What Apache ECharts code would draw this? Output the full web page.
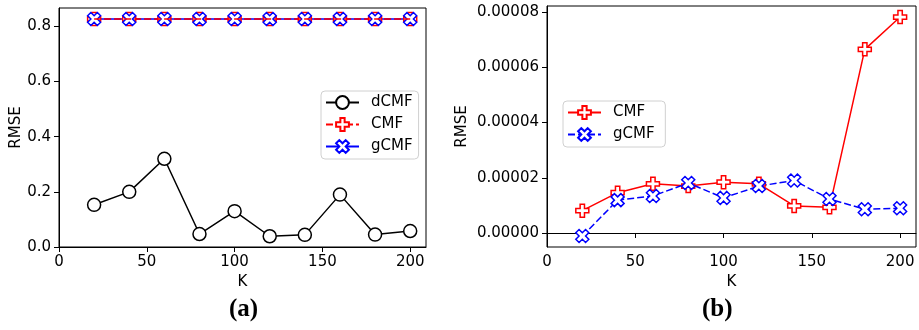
<!DOCTYPE html>
<html>
<head>
<meta charset="utf-8">
<script src="https://cdn.jsdelivr.net/npm/echarts@6/dist/echarts.min.js"></script>
<style>html,body{margin:0;padding:0;background:#fff;}#c{width:919px;height:330px;}</style>
</head>
<body>
<div id="c"></div>
<script>
// ---- data ----
const K = [20, 40, 60, 80, 100, 120, 140, 160, 180, 200];
const dCMF_a = [0.153, 0.200, 0.320, 0.047, 0.130, 0.039, 0.044, 0.190, 0.045, 0.058];
const CMF_a  = [0.827, 0.827, 0.827, 0.827, 0.827, 0.827, 0.827, 0.827, 0.827, 0.827];
const gCMF_a = [0.827, 0.827, 0.827, 0.827, 0.827, 0.827, 0.827, 0.827, 0.827, 0.827];
const CMF_b  = [8.1e-6, 1.46e-5, 1.78e-5, 1.70e-5, 1.84e-5, 1.78e-5, 9.8e-6, 9.3e-6, 6.65e-5, 7.82e-5];
const gCMF_b = [-1.1e-6, 1.19e-5, 1.34e-5, 1.81e-5, 1.27e-5, 1.70e-5, 1.90e-5, 1.23e-5, 8.6e-6, 8.95e-6];
const xTicks = [0, 50, 100, 150, 200];
const yTicksA = [0, 0.2, 0.4, 0.6, 0.8];
const yTicksB = [0, 0.00002, 0.00004, 0.00006, 0.00008];
const captions = ['(a)', '(b)'];

const pair = (ys) => K.map((k, i) => [k, ys[i]]);
const FONT = 'DejaVu Sans';
const PLUS = 'path://M2,0L4,0L4,2L6,2L6,4L4,4L4,6L2,6L2,4L0,4L0,2L2,2Z';
const XMK = 'path://M3,0L4,1L3,2L4,3L3,4L2,3L1,4L0,3L1,2L0,1L1,0L2,1Z';
const DASH = [7, 3];

function xAxisCfg(idx) {
  return {
    type: 'value', gridIndex: idx, min: 0, max: 209,
    name: 'K', nameLocation: 'middle', nameGap: 26,
    nameTextStyle: { fontFamily: FONT, fontSize: 15, color: '#000' },
    axisLine: { show: true, lineStyle: { color: '#000', width: 1 } },
    axisTick: { show: true, length: 5, lineStyle: { color: '#000' }, customValues: xTicks },
    axisLabel: { fontFamily: FONT, fontSize: 15, color: '#000', margin: 8, customValues: xTicks },
    splitLine: { show: false }
  };
}
function yAxisCfg(idx, min, max, ticks, dec, gap) {
  return {
    type: 'value', gridIndex: idx, min: min, max: max,
    name: 'RMSE', nameLocation: 'middle', nameGap: gap, nameRotate: 90,
    nameTextStyle: { fontFamily: FONT, fontSize: 15, color: '#000' },
    axisLine: { show: true, lineStyle: { color: '#000', width: 1 } },
    axisTick: { show: true, length: 5, lineStyle: { color: '#000' }, customValues: ticks },
    axisLabel: { fontFamily: FONT, fontSize: 15, color: '#000', margin: 8, customValues: ticks,
      formatter: (v) => Number(v).toFixed(dec) },
    splitLine: { show: false }
  };
}
function ser(name, data, idx, color, symbol, dashed, z) {
  return {
    name: name, type: 'line', xAxisIndex: idx, yAxisIndex: idx, data: data,
    symbol: symbol, symbolSize: 13, showAllSymbol: true,
    lineStyle: { color: color, width: 1.5, type: dashed ? DASH : 'solid' },
    itemStyle: { color: '#fff', borderColor: color, borderWidth: 1.5 },
    emphasis: { disabled: true }, animation: false, z: z || 3
  };
}

const chart = echarts.init(document.getElementById('c'), null, { renderer: 'canvas' });
const legendBase = {
  orient: 'vertical', itemWidth: 33, itemHeight: 16, itemGap: 7,
  backgroundColor: '#fff', borderColor: '#d0d0d0', borderWidth: 1, borderRadius: 4,
  padding: [4, 6, 5, 4],
  textStyle: { fontFamily: FONT, fontSize: 15, color: '#000', padding: [0, 0, 0, 7] }
};
const cmfLineOverlay = ser('CMF_line', pair(CMF_a), 0, '#ff0000', 'none', true, 4);
chart.setOption({
  animation: false,
  grid: [
    { left: 59, top: 8, width: 367, height: 239, show: true, borderColor: '#000', borderWidth: 1, backgroundColor: 'transparent' },
    { left: 547, top: 6, width: 369, height: 241, show: true, borderColor: '#000', borderWidth: 1, backgroundColor: 'transparent' }
  ],
  xAxis: [xAxisCfg(0), xAxisCfg(1)],
  yAxis: [yAxisCfg(0, 0, 0.867, yTicksA, 1, 35), yAxisCfg(1, -5.07e-6, 8.22e-5, yTicksB, 5, 77)],
  legend: [
    Object.assign({}, legendBase, { left: 321, top: 91, data: [
      { name: 'dCMF' },
      { name: 'CMF', lineStyle: { type: DASH } },
      { name: 'gCMF' }
    ] }),
    Object.assign({}, legendBase, { left: 563, top: 101, data: [
      { name: 'CMF ' },
      { name: 'gCMF ', lineStyle: { type: DASH } }
    ] })
  ],
  series: [
    ser('dCMF', pair(dCMF_a), 0, '#000', 'circle', false),
    ser('CMF', pair(CMF_a), 0, '#ff0000', PLUS, true),
    ser('gCMF', pair(gCMF_a), 0, '#0000ff', XMK, false),
    cmfLineOverlay,
    ser('CMF ', pair(CMF_b), 1, '#ff0000', PLUS, false),
    ser('gCMF ', pair(gCMF_b), 1, '#0000ff', XMK, true)
  ],
  graphic: [
    { type: 'text', left: 229, top: 297, style: { text: captions[0], fontFamily: 'Liberation Serif', fontWeight: 'bold', fontSize: 25, fill: '#000' } },
    { type: 'text', left: 702, top: 297, style: { text: captions[1], fontFamily: 'Liberation Serif', fontWeight: 'bold', fontSize: 25, fill: '#000' } }
  ]
});
</script>
</body>
</html>
